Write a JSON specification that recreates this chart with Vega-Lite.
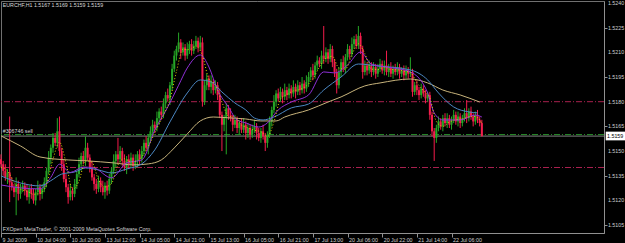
{
"$schema":"https://vega.github.io/schema/vega-lite/v6.json",
"width":603,"height":232,
"autosize":{"type":"none"},
"padding":{"left":1,"top":1,"right":21,"bottom":10},
"background":"#000000",
"config":{"view":{"stroke":"#707070","strokeWidth":1},
"axis":{"domainColor":"#909090","tickColor":"#909090","labelColor":"#d0d0d0","labelFont":"Liberation Sans","labelFontSize":5.3,"grid":false,"title":null,"labelOverlap":false},
"text":{"font":"Liberation Sans","fontSize":5.3}},
"datasets":{
"bars":[
{"i":0,"o":1.5145,"h":1.5148,"l":1.5140,"c":1.5142},
{"i":1,"o":1.5142,"h":1.5144,"l":1.5135,"c":1.5138},
{"i":2,"o":1.5138,"h":1.5142,"l":1.5132,"c":1.5134},
{"i":3,"o":1.5134,"h":1.5139,"l":1.5130,"c":1.5137},
{"i":4,"o":1.5137,"h":1.5171,"l":1.5119,"c":1.5131},
{"i":5,"o":1.5131,"h":1.5134,"l":1.5126,"c":1.5128},
{"i":6,"o":1.5128,"h":1.5130,"l":1.5122,"c":1.5125},
{"i":7,"o":1.5125,"h":1.5134,"l":1.5111,"c":1.5130},
{"i":8,"o":1.5130,"h":1.5132,"l":1.5120,"c":1.5124},
{"i":9,"o":1.5124,"h":1.5130,"l":1.5121,"c":1.5127},
{"i":10,"o":1.5127,"h":1.5132,"l":1.5125,"c":1.5129},
{"i":11,"o":1.5129,"h":1.5131,"l":1.5123,"c":1.5126},
{"i":12,"o":1.5126,"h":1.5130,"l":1.5120,"c":1.5122},
{"i":13,"o":1.5122,"h":1.5129,"l":1.5118,"c":1.5127},
{"i":14,"o":1.5127,"h":1.5130,"l":1.5121,"c":1.5124},
{"i":15,"o":1.5124,"h":1.5127,"l":1.5118,"c":1.5120},
{"i":16,"o":1.5120,"h":1.5127,"l":1.5117,"c":1.5125},
{"i":17,"o":1.5125,"h":1.5132,"l":1.5123,"c":1.5128},
{"i":18,"o":1.5128,"h":1.5130,"l":1.5120,"c":1.5124},
{"i":19,"o":1.5124,"h":1.5130,"l":1.5121,"c":1.5127},
{"i":20,"o":1.5127,"h":1.5134,"l":1.5125,"c":1.5131},
{"i":21,"o":1.5131,"h":1.5140,"l":1.5128,"c":1.5138},
{"i":22,"o":1.5138,"h":1.5150,"l":1.5136,"c":1.5146},
{"i":23,"o":1.5146,"h":1.5154,"l":1.5142,"c":1.5152},
{"i":24,"o":1.5152,"h":1.5161,"l":1.5149,"c":1.5158},
{"i":25,"o":1.5158,"h":1.5161,"l":1.5153,"c":1.5155},
{"i":26,"o":1.5155,"h":1.5170,"l":1.5152,"c":1.5162},
{"i":27,"o":1.5162,"h":1.5171,"l":1.5147,"c":1.5150},
{"i":28,"o":1.5150,"h":1.5152,"l":1.5138,"c":1.5142},
{"i":29,"o":1.5142,"h":1.5145,"l":1.5131,"c":1.5133},
{"i":30,"o":1.5133,"h":1.5136,"l":1.5125,"c":1.5128},
{"i":31,"o":1.5128,"h":1.5130,"l":1.5118,"c":1.5122},
{"i":32,"o":1.5122,"h":1.5130,"l":1.5120,"c":1.5126},
{"i":33,"o":1.5126,"h":1.5128,"l":1.5120,"c":1.5124},
{"i":34,"o":1.5124,"h":1.5133,"l":1.5122,"c":1.5130},
{"i":35,"o":1.5130,"h":1.5138,"l":1.5127,"c":1.5136},
{"i":36,"o":1.5136,"h":1.5146,"l":1.5134,"c":1.5142},
{"i":37,"o":1.5142,"h":1.5149,"l":1.5138,"c":1.5147},
{"i":38,"o":1.5147,"h":1.5150,"l":1.5142,"c":1.5144},
{"i":39,"o":1.5144,"h":1.5159,"l":1.5141,"c":1.5152},
{"i":40,"o":1.5152,"h":1.5155,"l":1.5144,"c":1.5146},
{"i":41,"o":1.5146,"h":1.5148,"l":1.5137,"c":1.5140},
{"i":42,"o":1.5140,"h":1.5144,"l":1.5132,"c":1.5134},
{"i":43,"o":1.5134,"h":1.5136,"l":1.5126,"c":1.5130},
{"i":44,"o":1.5130,"h":1.5133,"l":1.5124,"c":1.5127},
{"i":45,"o":1.5127,"h":1.5135,"l":1.5125,"c":1.5132},
{"i":46,"o":1.5132,"h":1.5134,"l":1.5125,"c":1.5128},
{"i":47,"o":1.5128,"h":1.5132,"l":1.5123,"c":1.5125},
{"i":48,"o":1.5125,"h":1.5131,"l":1.5121,"c":1.5129},
{"i":49,"o":1.5129,"h":1.5132,"l":1.5123,"c":1.5126},
{"i":50,"o":1.5126,"h":1.5136,"l":1.5124,"c":1.5133},
{"i":51,"o":1.5133,"h":1.5140,"l":1.5130,"c":1.5138},
{"i":52,"o":1.5138,"h":1.5148,"l":1.5136,"c":1.5144},
{"i":53,"o":1.5144,"h":1.5150,"l":1.5140,"c":1.5148},
{"i":54,"o":1.5148,"h":1.5158,"l":1.5142,"c":1.5145},
{"i":55,"o":1.5145,"h":1.5153,"l":1.5143,"c":1.5150},
{"i":56,"o":1.5150,"h":1.5152,"l":1.5141,"c":1.5144},
{"i":57,"o":1.5144,"h":1.5148,"l":1.5138,"c":1.5140},
{"i":58,"o":1.5140,"h":1.5147,"l":1.5136,"c":1.5145},
{"i":59,"o":1.5145,"h":1.5148,"l":1.5139,"c":1.5142},
{"i":60,"o":1.5142,"h":1.5149,"l":1.5140,"c":1.5146},
{"i":61,"o":1.5146,"h":1.5148,"l":1.5138,"c":1.5141},
{"i":62,"o":1.5141,"h":1.5148,"l":1.5139,"c":1.5144},
{"i":63,"o":1.5144,"h":1.5150,"l":1.5140,"c":1.5148},
{"i":64,"o":1.5148,"h":1.5151,"l":1.5142,"c":1.5145},
{"i":65,"o":1.5145,"h":1.5153,"l":1.5143,"c":1.5150},
{"i":66,"o":1.5150,"h":1.5157,"l":1.5147,"c":1.5155},
{"i":67,"o":1.5155,"h":1.5159,"l":1.5150,"c":1.5152},
{"i":68,"o":1.5152,"h":1.5160,"l":1.5148,"c":1.5158},
{"i":69,"o":1.5158,"h":1.5165,"l":1.5155,"c":1.5162},
{"i":70,"o":1.5162,"h":1.5169,"l":1.5160,"c":1.5166},
{"i":71,"o":1.5166,"h":1.5168,"l":1.5161,"c":1.5164},
{"i":72,"o":1.5164,"h":1.5174,"l":1.5162,"c":1.5170},
{"i":73,"o":1.5170,"h":1.5176,"l":1.5166,"c":1.5174},
{"i":74,"o":1.5174,"h":1.5177,"l":1.5169,"c":1.5172},
{"i":75,"o":1.5172,"h":1.5182,"l":1.5170,"c":1.5179},
{"i":76,"o":1.5179,"h":1.5186,"l":1.5176,"c":1.5184},
{"i":77,"o":1.5184,"h":1.5188,"l":1.5180,"c":1.5182},
{"i":78,"o":1.5182,"h":1.5192,"l":1.5178,"c":1.5190},
{"i":79,"o":1.5190,"h":1.5203,"l":1.5187,"c":1.5200},
{"i":80,"o":1.5200,"h":1.5211,"l":1.5198,"c":1.5208},
{"i":81,"o":1.5208,"h":1.5214,"l":1.5205,"c":1.5212},
{"i":82,"o":1.5212,"h":1.5222,"l":1.5210,"c":1.5216},
{"i":83,"o":1.5216,"h":1.5218,"l":1.5206,"c":1.5210},
{"i":84,"o":1.5210,"h":1.5216,"l":1.5208,"c":1.5213},
{"i":85,"o":1.5213,"h":1.5215,"l":1.5205,"c":1.5208},
{"i":86,"o":1.5208,"h":1.5216,"l":1.5206,"c":1.5212},
{"i":87,"o":1.5212,"h":1.5217,"l":1.5209,"c":1.5215},
{"i":88,"o":1.5215,"h":1.5218,"l":1.5208,"c":1.5211},
{"i":89,"o":1.5211,"h":1.5217,"l":1.5209,"c":1.5214},
{"i":90,"o":1.5214,"h":1.5220,"l":1.5212,"c":1.5217},
{"i":91,"o":1.5217,"h":1.5219,"l":1.5210,"c":1.5213},
{"i":92,"o":1.5213,"h":1.5220,"l":1.5211,"c":1.5216},
{"i":93,"o":1.5216,"h":1.5219,"l":1.5177,"c":1.5180},
{"i":94,"o":1.5180,"h":1.5193,"l":1.5178,"c":1.5190},
{"i":95,"o":1.5190,"h":1.5197,"l":1.5187,"c":1.5194},
{"i":96,"o":1.5194,"h":1.5196,"l":1.5187,"c":1.5189},
{"i":97,"o":1.5189,"h":1.5196,"l":1.5185,"c":1.5192},
{"i":98,"o":1.5192,"h":1.5194,"l":1.5184,"c":1.5187},
{"i":99,"o":1.5187,"h":1.5193,"l":1.5185,"c":1.5190},
{"i":100,"o":1.5190,"h":1.5192,"l":1.5181,"c":1.5184},
{"i":101,"o":1.5184,"h":1.5188,"l":1.5170,"c":1.5172},
{"i":102,"o":1.5172,"h":1.5174,"l":1.5150,"c":1.5166},
{"i":103,"o":1.5166,"h":1.5172,"l":1.5162,"c":1.5170},
{"i":104,"o":1.5170,"h":1.5179,"l":1.5148,"c":1.5176},
{"i":105,"o":1.5176,"h":1.5178,"l":1.5169,"c":1.5172},
{"i":106,"o":1.5172,"h":1.5176,"l":1.5168,"c":1.5170},
{"i":107,"o":1.5170,"h":1.5172,"l":1.5162,"c":1.5166},
{"i":108,"o":1.5166,"h":1.5172,"l":1.5164,"c":1.5169},
{"i":109,"o":1.5169,"h":1.5171,"l":1.5161,"c":1.5164},
{"i":110,"o":1.5164,"h":1.5169,"l":1.5160,"c":1.5167},
{"i":111,"o":1.5167,"h":1.5170,"l":1.5161,"c":1.5163},
{"i":112,"o":1.5163,"h":1.5170,"l":1.5161,"c":1.5166},
{"i":113,"o":1.5166,"h":1.5168,"l":1.5157,"c":1.5161},
{"i":114,"o":1.5161,"h":1.5167,"l":1.5158,"c":1.5164},
{"i":115,"o":1.5164,"h":1.5166,"l":1.5157,"c":1.5160},
{"i":116,"o":1.5160,"h":1.5166,"l":1.5158,"c":1.5163},
{"i":117,"o":1.5163,"h":1.5169,"l":1.5161,"c":1.5165},
{"i":118,"o":1.5165,"h":1.5167,"l":1.5157,"c":1.5161},
{"i":119,"o":1.5161,"h":1.5164,"l":1.5156,"c":1.5158},
{"i":120,"o":1.5158,"h":1.5164,"l":1.5155,"c":1.5162},
{"i":121,"o":1.5162,"h":1.5166,"l":1.5157,"c":1.5159},
{"i":122,"o":1.5159,"h":1.5161,"l":1.5150,"c":1.5155},
{"i":123,"o":1.5155,"h":1.5162,"l":1.5152,"c":1.5160},
{"i":124,"o":1.5160,"h":1.5171,"l":1.5158,"c":1.5168},
{"i":125,"o":1.5168,"h":1.5177,"l":1.5165,"c":1.5175},
{"i":126,"o":1.5175,"h":1.5184,"l":1.5173,"c":1.5180},
{"i":127,"o":1.5180,"h":1.5187,"l":1.5177,"c":1.5185},
{"i":128,"o":1.5185,"h":1.5188,"l":1.5180,"c":1.5182},
{"i":129,"o":1.5182,"h":1.5189,"l":1.5180,"c":1.5186},
{"i":130,"o":1.5186,"h":1.5188,"l":1.5179,"c":1.5183},
{"i":131,"o":1.5183,"h":1.5191,"l":1.5181,"c":1.5187},
{"i":132,"o":1.5187,"h":1.5189,"l":1.5181,"c":1.5184},
{"i":133,"o":1.5184,"h":1.5191,"l":1.5182,"c":1.5188},
{"i":134,"o":1.5188,"h":1.5190,"l":1.5182,"c":1.5185},
{"i":135,"o":1.5185,"h":1.5193,"l":1.5183,"c":1.5189},
{"i":136,"o":1.5189,"h":1.5191,"l":1.5182,"c":1.5186},
{"i":137,"o":1.5186,"h":1.5193,"l":1.5184,"c":1.5190},
{"i":138,"o":1.5190,"h":1.5192,"l":1.5184,"c":1.5187},
{"i":139,"o":1.5187,"h":1.5195,"l":1.5185,"c":1.5191},
{"i":140,"o":1.5191,"h":1.5193,"l":1.5185,"c":1.5188},
{"i":141,"o":1.5188,"h":1.5196,"l":1.5186,"c":1.5192},
{"i":142,"o":1.5192,"h":1.5198,"l":1.5189,"c":1.5195},
{"i":143,"o":1.5195,"h":1.5201,"l":1.5193,"c":1.5199},
{"i":144,"o":1.5199,"h":1.5203,"l":1.5193,"c":1.5196},
{"i":145,"o":1.5196,"h":1.5204,"l":1.5194,"c":1.5202},
{"i":146,"o":1.5202,"h":1.5208,"l":1.5199,"c":1.5205},
{"i":147,"o":1.5205,"h":1.5207,"l":1.5201,"c":1.5203},
{"i":148,"o":1.5203,"h":1.5211,"l":1.5200,"c":1.5208},
{"i":149,"o":1.5208,"h":1.5226,"l":1.5203,"c":1.5206},
{"i":150,"o":1.5206,"h":1.5213,"l":1.5204,"c":1.5210},
{"i":151,"o":1.5210,"h":1.5212,"l":1.5203,"c":1.5206},
{"i":152,"o":1.5206,"h":1.5215,"l":1.5204,"c":1.5212},
{"i":153,"o":1.5212,"h":1.5214,"l":1.5201,"c":1.5204},
{"i":154,"o":1.5204,"h":1.5206,"l":1.5195,"c":1.5198},
{"i":155,"o":1.5198,"h":1.5200,"l":1.5185,"c":1.5190},
{"i":156,"o":1.5190,"h":1.5201,"l":1.5188,"c":1.5198},
{"i":157,"o":1.5198,"h":1.5206,"l":1.5195,"c":1.5204},
{"i":158,"o":1.5204,"h":1.5208,"l":1.5198,"c":1.5200},
{"i":159,"o":1.5200,"h":1.5209,"l":1.5197,"c":1.5207},
{"i":160,"o":1.5207,"h":1.5215,"l":1.5205,"c":1.5212},
{"i":161,"o":1.5212,"h":1.5214,"l":1.5206,"c":1.5209},
{"i":162,"o":1.5209,"h":1.5219,"l":1.5207,"c":1.5215},
{"i":163,"o":1.5215,"h":1.5220,"l":1.5212,"c":1.5218},
{"i":164,"o":1.5218,"h":1.5221,"l":1.5212,"c":1.5214},
{"i":165,"o":1.5214,"h":1.5226,"l":1.5212,"c":1.5220},
{"i":166,"o":1.5220,"h":1.5222,"l":1.5209,"c":1.5212},
{"i":167,"o":1.5212,"h":1.5214,"l":1.5194,"c":1.5198},
{"i":168,"o":1.5198,"h":1.5205,"l":1.5196,"c":1.5202},
{"i":169,"o":1.5202,"h":1.5204,"l":1.5196,"c":1.5199},
{"i":170,"o":1.5199,"h":1.5205,"l":1.5197,"c":1.5202},
{"i":171,"o":1.5202,"h":1.5204,"l":1.5195,"c":1.5198},
{"i":172,"o":1.5198,"h":1.5204,"l":1.5196,"c":1.5201},
{"i":173,"o":1.5201,"h":1.5203,"l":1.5194,"c":1.5197},
{"i":174,"o":1.5197,"h":1.5203,"l":1.5195,"c":1.5200},
{"i":175,"o":1.5200,"h":1.5206,"l":1.5198,"c":1.5203},
{"i":176,"o":1.5203,"h":1.5205,"l":1.5197,"c":1.5199},
{"i":177,"o":1.5199,"h":1.5205,"l":1.5196,"c":1.5202},
{"i":178,"o":1.5202,"h":1.5211,"l":1.5196,"c":1.5198},
{"i":179,"o":1.5198,"h":1.5203,"l":1.5195,"c":1.5201},
{"i":180,"o":1.5201,"h":1.5204,"l":1.5195,"c":1.5197},
{"i":181,"o":1.5197,"h":1.5202,"l":1.5194,"c":1.5200},
{"i":182,"o":1.5200,"h":1.5203,"l":1.5196,"c":1.5198},
{"i":183,"o":1.5198,"h":1.5204,"l":1.5196,"c":1.5201},
{"i":184,"o":1.5201,"h":1.5203,"l":1.5194,"c":1.5197},
{"i":185,"o":1.5197,"h":1.5201,"l":1.5195,"c":1.5199},
{"i":186,"o":1.5199,"h":1.5202,"l":1.5193,"c":1.5196},
{"i":187,"o":1.5196,"h":1.5202,"l":1.5194,"c":1.5199},
{"i":188,"o":1.5199,"h":1.5201,"l":1.5194,"c":1.5197},
{"i":189,"o":1.5197,"h":1.5207,"l":1.5195,"c":1.5198},
{"i":190,"o":1.5198,"h":1.5200,"l":1.5183,"c":1.5186},
{"i":191,"o":1.5186,"h":1.5192,"l":1.5184,"c":1.5190},
{"i":192,"o":1.5190,"h":1.5193,"l":1.5184,"c":1.5187},
{"i":193,"o":1.5187,"h":1.5189,"l":1.5181,"c":1.5184},
{"i":194,"o":1.5184,"h":1.5191,"l":1.5182,"c":1.5188},
{"i":195,"o":1.5188,"h":1.5190,"l":1.5183,"c":1.5185},
{"i":196,"o":1.5185,"h":1.5187,"l":1.5179,"c":1.5182},
{"i":197,"o":1.5182,"h":1.5186,"l":1.5180,"c":1.5184},
{"i":198,"o":1.5184,"h":1.5186,"l":1.5169,"c":1.5172},
{"i":199,"o":1.5172,"h":1.5174,"l":1.5159,"c":1.5162},
{"i":200,"o":1.5162,"h":1.5164,"l":1.5144,"c":1.5158},
{"i":201,"o":1.5158,"h":1.5166,"l":1.5155,"c":1.5164},
{"i":202,"o":1.5164,"h":1.5171,"l":1.5162,"c":1.5168},
{"i":203,"o":1.5168,"h":1.5170,"l":1.5163,"c":1.5165},
{"i":204,"o":1.5165,"h":1.5172,"l":1.5162,"c":1.5170},
{"i":205,"o":1.5170,"h":1.5173,"l":1.5165,"c":1.5167},
{"i":206,"o":1.5167,"h":1.5173,"l":1.5164,"c":1.5170},
{"i":207,"o":1.5170,"h":1.5172,"l":1.5164,"c":1.5166},
{"i":208,"o":1.5166,"h":1.5171,"l":1.5163,"c":1.5169},
{"i":209,"o":1.5169,"h":1.5175,"l":1.5167,"c":1.5172},
{"i":210,"o":1.5172,"h":1.5174,"l":1.5166,"c":1.5168},
{"i":211,"o":1.5168,"h":1.5174,"l":1.5165,"c":1.5171},
{"i":212,"o":1.5171,"h":1.5173,"l":1.5164,"c":1.5167},
{"i":213,"o":1.5167,"h":1.5172,"l":1.5165,"c":1.5170},
{"i":214,"o":1.5170,"h":1.5176,"l":1.5168,"c":1.5173},
{"i":215,"o":1.5173,"h":1.5181,"l":1.5167,"c":1.5170},
{"i":216,"o":1.5170,"h":1.5176,"l":1.5168,"c":1.5174},
{"i":217,"o":1.5174,"h":1.5177,"l":1.5169,"c":1.5171},
{"i":218,"o":1.5171,"h":1.5173,"l":1.5165,"c":1.5168},
{"i":219,"o":1.5168,"h":1.5174,"l":1.5166,"c":1.5172},
{"i":220,"o":1.5172,"h":1.5175,"l":1.5167,"c":1.5169},
{"i":221,"o":1.5169,"h":1.5171,"l":1.5165,"c":1.5167},
{"i":222,"o":1.5167,"h":1.5169,"l":1.5159,"c":1.5159}
],
"ma":[
{"s":"y","i":0,"v":1.5140},{"s":"y","i":3,"v":1.5138},{"s":"y","i":6,"v":1.5131},{"s":"y","i":9,"v":1.51268},{"s":"y","i":12,"v":1.51256},{"s":"y","i":15,"v":1.51238},{"s":"y","i":18,"v":1.51242},{"s":"y","i":21,"v":1.51296},{"s":"y","i":24,"v":1.5145},{"s":"y","i":27,"v":1.51554},{"s":"y","i":30,"v":1.5143},{"s":"y","i":33,"v":1.51266},{"s":"y","i":36,"v":1.51316},{"s":"y","i":39,"v":1.51442},{"s":"y","i":42,"v":1.51432},{"s":"y","i":45,"v":1.51326},{"s":"y","i":48,"v":1.51282},{"s":"y","i":51,"v":1.51302},{"s":"y","i":54,"v":1.51416},{"s":"y","i":57,"v":1.51454},{"s":"y","i":60,"v":1.51434},{"s":"y","i":63,"v":1.51442},{"s":"y","i":66,"v":1.51484},{"s":"y","i":69,"v":1.51554},{"s":"y","i":72,"v":1.5164},{"s":"y","i":75,"v":1.51718},{"s":"y","i":78,"v":1.51814},{"s":"y","i":81,"v":1.51984},{"s":"y","i":84,"v":1.52118},{"s":"y","i":87,"v":1.52116},{"s":"y","i":90,"v":1.52138},{"s":"y","i":93,"v":1.5208},{"s":"y","i":96,"v":1.51938},{"s":"y","i":99,"v":1.51904},{"s":"y","i":102,"v":1.51798},{"s":"y","i":105,"v":1.51712},{"s":"y","i":108,"v":1.51706},{"s":"y","i":111,"v":1.51658},{"s":"y","i":114,"v":1.51642},{"s":"y","i":117,"v":1.51626},{"s":"y","i":120,"v":1.51618},{"s":"y","i":123,"v":1.51588},{"s":"y","i":126,"v":1.51676},{"s":"y","i":129,"v":1.51816},{"s":"y","i":132,"v":1.51844},{"s":"y","i":135,"v":1.51866},{"s":"y","i":138,"v":1.51874},{"s":"y","i":141,"v":1.51896},{"s":"y","i":144,"v":1.5194},{"s":"y","i":147,"v":1.5201},{"s":"y","i":150,"v":1.52064},{"s":"y","i":153,"v":1.52076},{"s":"y","i":156,"v":1.52004},{"s":"y","i":159,"v":1.51998},{"s":"y","i":162,"v":1.52086},{"s":"y","i":165,"v":1.52152},{"s":"y","i":168,"v":1.52092},{"s":"y","i":171,"v":1.51998},{"s":"y","i":174,"v":1.51996},{"s":"y","i":177,"v":1.5201},{"s":"y","i":180,"v":1.51996},{"s":"y","i":183,"v":1.51994},{"s":"y","i":186,"v":1.51986},{"s":"y","i":189,"v":1.51978},{"s":"y","i":192,"v":1.51916},{"s":"y","i":195,"v":1.51868},{"s":"y","i":198,"v":1.51822},{"s":"y","i":201,"v":1.5168},{"s":"y","i":204,"v":1.5165},{"s":"y","i":207,"v":1.51676},{"s":"y","i":210,"v":1.5169},{"s":"y","i":213,"v":1.51696},{"s":"y","i":216,"v":1.51708},{"s":"y","i":219,"v":1.5171},{"s":"y","i":222,"v":1.5167},
{"s":"p","i":0,"v":1.51294},{"s":"p","i":9,"v":1.51276},{"s":"p","i":18,"v":1.5127},{"s":"p","i":23,"v":1.5134},{"s":"p","i":27,"v":1.5142},{"s":"p","i":32,"v":1.5137},{"s":"p","i":38,"v":1.51403},{"s":"p","i":43,"v":1.51397},{"s":"p","i":51,"v":1.51337},{"s":"p","i":58,"v":1.51428},{"s":"p","i":65,"v":1.51446},{"s":"p","i":71,"v":1.51628},{"s":"p","i":77,"v":1.51768},{"s":"p","i":82,"v":1.5190},{"s":"p","i":86,"v":1.52005},{"s":"p","i":92,"v":1.52084},{"s":"p","i":96,"v":1.52011},{"s":"p","i":100,"v":1.51871},{"s":"p","i":105,"v":1.51768},{"s":"p","i":109,"v":1.51689},{"s":"p","i":113,"v":1.51671},{"s":"p","i":119,"v":1.51646},{"s":"p","i":123,"v":1.51671},{"s":"p","i":128,"v":1.5175},{"s":"p","i":134,"v":1.51798},{"s":"p","i":142,"v":1.51841},{"s":"p","i":149,"v":1.51981},{"s":"p","i":154,"v":1.51975},{"s":"p","i":160,"v":1.52023},{"s":"p","i":166,"v":1.52102},{"s":"p","i":171,"v":1.52029},{"s":"p","i":181,"v":1.52005},{"s":"p","i":189,"v":1.51981},{"s":"p","i":197,"v":1.51853},{"s":"p","i":200,"v":1.51732},{"s":"p","i":204,"v":1.51689},{"s":"p","i":212,"v":1.51689},{"s":"p","i":219,"v":1.51719},{"s":"p","i":222,"v":1.51707},
{"s":"b","i":0,"v":1.51349},{"s":"b","i":9,"v":1.51306},{"s":"b","i":18,"v":1.51288},{"s":"b","i":23,"v":1.5132},{"s":"b","i":28,"v":1.5136},{"s":"b","i":34,"v":1.51373},{"s":"b","i":39,"v":1.51397},{"s":"b","i":45,"v":1.51385},{"s":"b","i":51,"v":1.51367},{"s":"b","i":58,"v":1.51391},{"s":"b","i":65,"v":1.51422},{"s":"b","i":71,"v":1.51507},{"s":"b","i":78,"v":1.51677},{"s":"b","i":86,"v":1.51853},{"s":"b","i":92,"v":1.51932},{"s":"b","i":97,"v":1.5192},{"s":"b","i":102,"v":1.51859},{"s":"b","i":108,"v":1.51792},{"s":"b","i":113,"v":1.5175},{"s":"b","i":117,"v":1.51701},{"s":"b","i":121,"v":1.51689},{"s":"b","i":126,"v":1.51707},{"s":"b","i":134,"v":1.51762},{"s":"b","i":142,"v":1.51786},{"s":"b","i":149,"v":1.51871},{"s":"b","i":157,"v":1.5195},{"s":"b","i":165,"v":1.52029},{"s":"b","i":174,"v":1.52017},{"s":"b","i":189,"v":1.51993},{"s":"b","i":197,"v":1.51932},{"s":"b","i":202,"v":1.51853},{"s":"b","i":209,"v":1.51768},{"s":"b","i":216,"v":1.51738},{"s":"b","i":220,"v":1.51732},
{"s":"t","i":0,"v":1.51592},{"s":"t","i":9,"v":1.51531},{"s":"t","i":18,"v":1.51464},{"s":"t","i":31,"v":1.51446},{"s":"t","i":40,"v":1.5144},{"s":"t","i":52,"v":1.51428},{"s":"t","i":61,"v":1.51416},{"s":"t","i":68,"v":1.51422},{"s":"t","i":74,"v":1.51446},{"s":"t","i":80,"v":1.51519},{"s":"t","i":86,"v":1.51604},{"s":"t","i":92,"v":1.51683},{"s":"t","i":98,"v":1.51707},{"s":"t","i":106,"v":1.51701},{"s":"t","i":113,"v":1.51695},{"s":"t","i":120,"v":1.51683},{"s":"t","i":127,"v":1.51683},{"s":"t","i":131,"v":1.51707},{"s":"t","i":142,"v":1.5175},{"s":"t","i":151,"v":1.51798},{"s":"t","i":157,"v":1.51829},{"s":"t","i":168,"v":1.51896},{"s":"t","i":175,"v":1.51914},{"s":"t","i":189,"v":1.51938},{"s":"t","i":197,"v":1.51914},{"s":"t","i":204,"v":1.51871},{"s":"t","i":212,"v":1.51841},{"s":"t","i":221,"v":1.51798}
],
"lev":[{"p":1.5180,"k":"r"},{"p":1.5140,"k":"r"},{"p":1.5160,"k":"g"}],
"ylab":[{"p":1.5105,"t":"1.5105"},{"p":1.5120,"t":"1.5120"},{"p":1.5135,"t":"1.5135"},{"p":1.5150,"t":"1.5150"},{"p":1.5165,"t":"1.5165"},{"p":1.5180,"t":"1.5180"},{"p":1.5195,"t":"1.5195"},{"p":1.5210,"t":"1.5210"},{"p":1.5225,"t":"1.5225"},{"p":1.5240,"t":"1.5240"}]
},
"layer":[
{"data":{"name":"lev"},"transform":[{"filter":"datum.k=='r'"}],"mark":{"type":"rule","color":"#a8204e","strokeWidth":1,"strokeDash":[6,2,1,2]},
 "encoding":{"y":{"field":"p","type":"quantitative","scale":{"domain":[1.51002,1.52412],"nice":false,"zero":false},"axis":{"orient":"right","values":[1.5105,1.512,1.5135,1.515,1.5165,1.518,1.5195,1.521,1.5225,1.524],"tickSize":3,"labels":false}}}},
{"data":{"name":"lev"},"transform":[{"filter":"datum.k=='g'"}],"mark":{"type":"rule","color":"#808080","strokeWidth":1,"yOffset":1.5},
 "encoding":{"y":{"field":"p","type":"quantitative"}}},
{"data":{"name":"lev"},"transform":[{"filter":"datum.k=='g'"}],"mark":{"type":"rule","color":"#28902a","strokeWidth":1,"strokeDash":[6,2,1,2]},
 "encoding":{"y":{"field":"p","type":"quantitative"}}},
{"data":{"name":"bars"},"mark":{"type":"rule","strokeWidth":1},
 "encoding":{"x":{"field":"i","type":"quantitative","scale":{"domain":[0,278.4],"nice":false,"zero":false},
   "axis":{"orient":"bottom","values":[0,16,32,48,64,80,96,112,128,144,160,176,192,208],"tickSize":4,"labelAlign":"left","labelOffset":1,"labelPadding":0,"labelOverlap":false,"labelFlush":false,
   "labelExpr":"['9 Jul 2009','10 Jul 04:00','10 Jul 20:00','13 Jul 12:00','14 Jul 05:00','14 Jul 21:00','15 Jul 13:00','16 Jul 05:00','16 Jul 21:00','17 Jul 13:00','20 Jul 06:00','20 Jul 22:00','21 Jul 14:00','22 Jul 06:00'][round(datum.value/16)]"}},
  "y":{"field":"l","type":"quantitative"},"y2":{"field":"h"},
  "color":{"condition":{"test":"datum.c>=datum.o","value":"#26a626"},"value":"#f41c4c"}}},
{"data":{"name":"bars"},"mark":{"type":"rule","strokeWidth":2},
 "encoding":{"x":{"field":"i","type":"quantitative"},"y":{"field":"o","type":"quantitative"},"y2":{"field":"c"},
  "color":{"condition":{"test":"datum.c>=datum.o","value":"#26a626"},"value":"#f41c4c"}}},
{"data":{"name":"ma"},"transform":[{"filter":"datum.s=='t'"}],"mark":{"type":"line","color":"#c8b47c","strokeWidth":1,"interpolate":"monotone"},
 "encoding":{"x":{"field":"i","type":"quantitative"},"y":{"field":"v","type":"quantitative"}}},
{"data":{"name":"ma"},"transform":[{"filter":"datum.s=='b'"}],"mark":{"type":"line","color":"#4c88c4","strokeWidth":1,"interpolate":"monotone"},
 "encoding":{"x":{"field":"i","type":"quantitative"},"y":{"field":"v","type":"quantitative"}}},
{"data":{"name":"ma"},"transform":[{"filter":"datum.s=='p'"}],"mark":{"type":"line","color":"#9030d8","strokeWidth":1,"interpolate":"monotone"},
 "encoding":{"x":{"field":"i","type":"quantitative"},"y":{"field":"v","type":"quantitative"}}},
{"data":{"name":"ma"},"transform":[{"filter":"datum.s=='y'"}],"mark":{"type":"line","color":"#e0d000","strokeWidth":1,"strokeDash":[1,2],"interpolate":"monotone"},
 "encoding":{"x":{"field":"i","type":"quantitative"},"y":{"field":"v","type":"quantitative"}}},
{"data":{"values":[{"t":"EURCHF,H1  1.5167 1.5169 1.5159 1.5159","x":0.8,"y":1.52388},{"t":"FXOpen MetaTrader, © 2001-2009 MetaQuotes Software Corp.","x":0.8,"y":1.51027},{"t":"#306746 sell","x":0.8,"y":1.51622}]},
 "mark":{"type":"text","align":"left","baseline":"middle","color":"#d8d8d8"},
 "encoding":{"x":{"field":"x","type":"quantitative"},"y":{"field":"y","type":"quantitative"},"text":{"field":"t"}}},
{"data":{"name":"ylab"},"mark":{"type":"text","align":"left","baseline":"middle","color":"#d0d0d0"},
 "encoding":{"x":{"datum":280.2},"y":{"field":"p","type":"quantitative"},"text":{"field":"t"}}},
{"data":{"values":[{"x":279.2,"x2":288.6,"y":1.51618,"y2":1.51565}]},"mark":{"type":"rect","color":"#ffffff"},
 "encoding":{"x":{"field":"x","type":"quantitative"},"x2":{"field":"x2"},"y":{"field":"y","type":"quantitative"},"y2":{"field":"y2"}}},
{"data":{"values":[{"t":"1.5159","x":279.8,"y":1.5159}]},"mark":{"type":"text","align":"left","baseline":"middle","color":"#000000"},
 "encoding":{"x":{"field":"x","type":"quantitative"},"y":{"field":"y","type":"quantitative"},"text":{"field":"t"}}}
]
}
